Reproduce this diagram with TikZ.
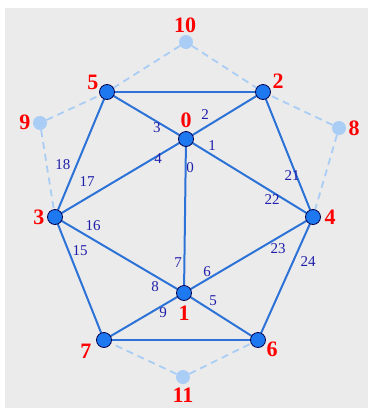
\documentclass[tikz,border=0pt]{standalone}
\usepackage{fontspec}
\setmainfont{Liberation Serif}
\begin{document}
\begin{tikzpicture}[x=1pt,y=-1pt,
  vtx/.style={circle,draw=black!70!blue,fill=vblue,line width=0.8pt,minimum size=15pt,inner sep=0pt},
  ghost/.style={circle,fill=gblue,minimum size=14pt,inner sep=0pt},
  edge/.style={draw=eblue,line width=2pt},
  gedge/.style={draw=gblue,line width=1.8pt,dash pattern=on 7pt off 5pt},
  vlab/.style={text=red,font=\fontsize{22}{22}\selectfont\bfseries,inner sep=0pt},
  elab/.style={text=lblue,font=\fontsize{15}{15}\selectfont,inner sep=0pt}]
\definecolor{vblue}{RGB}{30,120,240}
\definecolor{gblue}{RGB}{170,205,245}
\definecolor{eblue}{RGB}{45,115,215}
\definecolor{lblue}{RGB}{30,30,170}
\definecolor{bg}{RGB}{235,235,235}
\useasboundingbox (0,0) rectangle (368,408);
\fill[bg] (5,8) rectangle (368,408);
% ghost nodes
\node[ghost] (n8) at (339,128) {};
\node[ghost] (n9) at (40,123) {};
\node[ghost] (n10) at (186,42) {};
\node[ghost] (n11) at (183,377) {};
% coordinates of main nodes
\coordinate (c0) at (186,139);
\coordinate (c1) at (184,293);
\coordinate (c2) at (263,92);
\coordinate (c3) at (55,217);
\coordinate (c4) at (313,217);
\coordinate (c5) at (107,92);
\coordinate (c6) at (258,340);
\coordinate (c7) at (104,340);
% dashed
\draw[gedge] (n10) -- (c5);
\draw[gedge] (n10) -- (c2);
\draw[gedge] (n9) -- (c5);
\draw[gedge] (n9) -- (c3);
\draw[gedge] (n8) -- (c2);
\draw[gedge] (n8) -- (c4);
\draw[gedge] (n11) -- (c7);
\draw[gedge] (n11) -- (c6);
% solid
\draw[edge] (c5) -- (c2);
\draw[edge] (c5) -- (c0);
\draw[edge] (c0) -- (c2);
\draw[edge] (c5) -- (c3);
\draw[edge] (c2) -- (c4);
\draw[edge] (c0) -- (c3);
\draw[edge] (c0) -- (c4);
\draw[edge] (c0) -- (c1);
\draw[edge] (c3) -- (c1);
\draw[edge] (c4) -- (c1);
\draw[edge] (c3) -- (c7);
\draw[edge] (c4) -- (c6);
\draw[edge] (c1) -- (c7);
\draw[edge] (c1) -- (c6);
\draw[edge] (c7) -- (c6);
% main nodes
\foreach \i in {0,...,7} {\node[vtx] (n\i) at (c\i) {};}
% vertex labels
\node[vlab] (l10) at (185,25) {10};
\node[vlab] (l5) at (93,82) {5};
\node[vlab] (l2) at (278,81) {2};
\node[vlab] (l9) at (25,122) {9};
\node[vlab] (l8) at (354,128) {8};
\node[vlab] (l0) at (186,120) {0};
\node[vlab] (l3) at (39,217) {3};
\node[vlab] (l4) at (330,217) {4};
\node[vlab] (l1) at (184,313) {1};
\node[vlab] (l7) at (86,351) {7};
\node[vlab] (l6) at (272,349) {6};
\node[vlab] (l11) at (183,395) {11};
% edge labels
\node[elab] (e2) at (205,115) {2};
\node[elab] (e3) at (157,128) {3};
\node[elab] (e1) at (212,146) {1};
\node[elab] (e4) at (158,159) {4};
\node[elab] (e0) at (190,168) {0};
\node[elab] (e18) at (63,165) {18};
\node[elab] (e17) at (87,182) {17};
\node[elab] (e21) at (292,176) {21};
\node[elab] (e22) at (272,200) {22};
\node[elab] (e16) at (93,226) {16};
\node[elab] (e15) at (80,251) {15};
\node[elab] (e23) at (278,249) {23};
\node[elab] (e24) at (308,262) {24};
\node[elab] (e7) at (178,263) {7};
\node[elab] (e6) at (207,272) {6};
\node[elab] (e8) at (155,287) {8};
\node[elab] (e5) at (213,301) {5};
\node[elab] (e9) at (163,313) {9};
\end{tikzpicture}
\end{document}
